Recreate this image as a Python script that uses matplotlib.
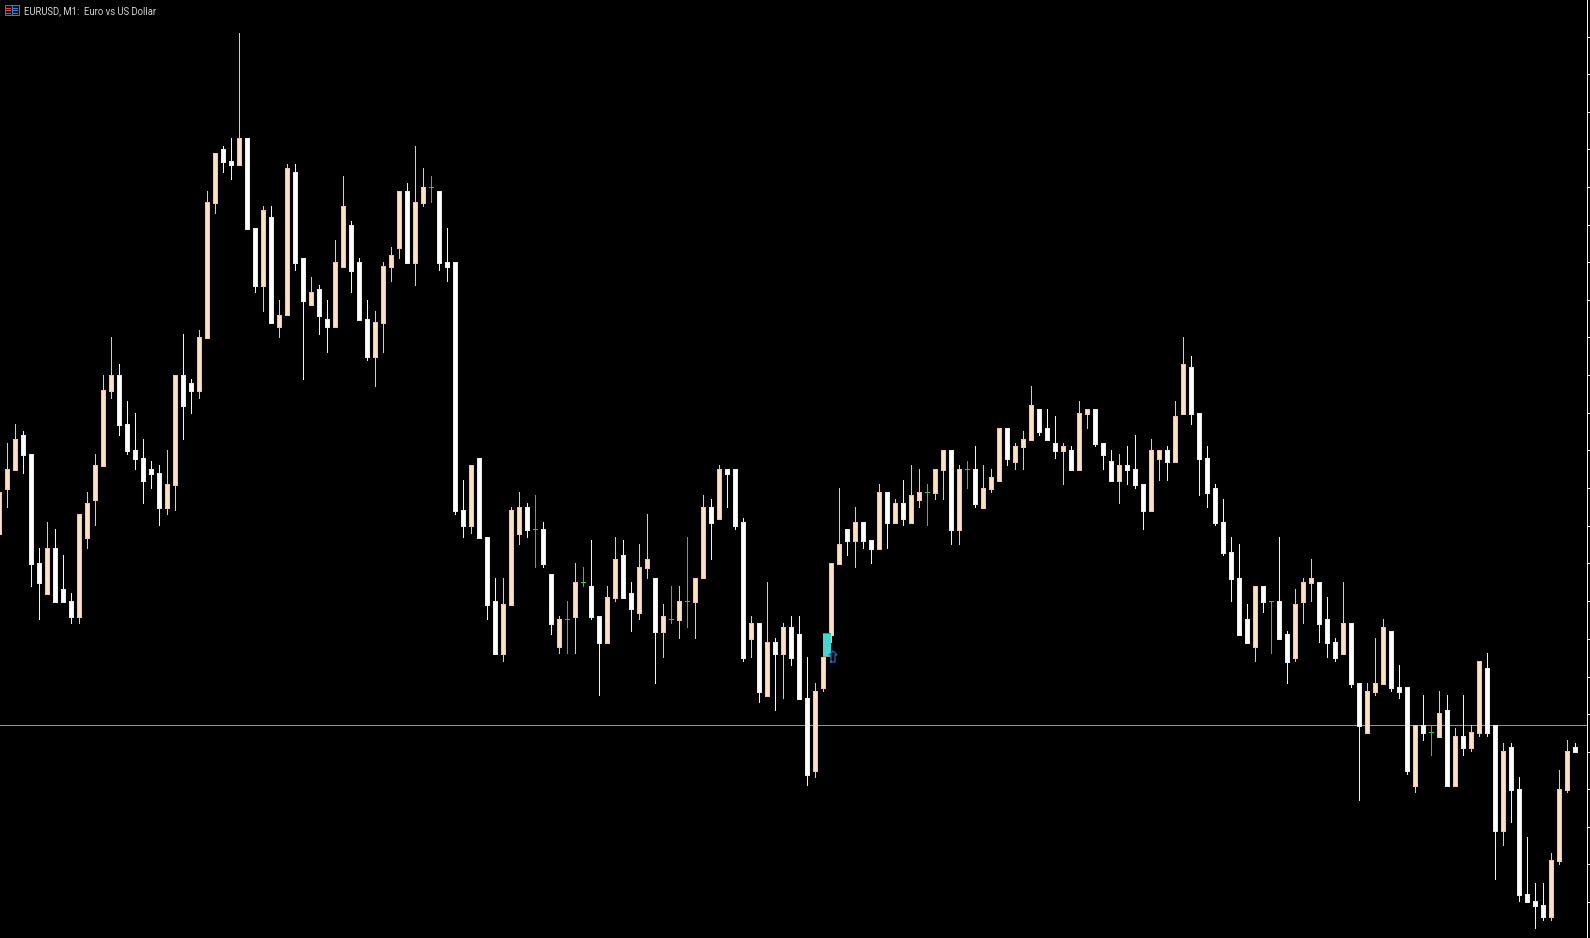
import matplotlib
matplotlib.use("Agg")
import matplotlib.pyplot as plt
from matplotlib.patches import Rectangle
from matplotlib.lines import Line2D
import numpy as np

# ---- chart values (price levels on the chart's own vertical scale) ----
highs = [492,443,424,431,454,548,522,529,555,593,
         514,492,454,375,337,364,401,413,439,461,
         465,450,375,334,379,330,191,153,146,138,
         33,138,228,206,206,300,164,164,258,277,
         285,300,240,176,221,258,300,311,262,247,
         191,183,146,168,176,191,228,262,480,465,
         458,537,578,578,507,492,503,495,522,574,
         616,601,563,567,540,616,586,537,540,582,
         544,514,578,604,586,586,537,578,495,499,
         465,469,469,518,616,623,582,638,623,616,
         616,657,683,657,563,488,529,507,522,540,
         484,492,499,480,465,469,484,469,450,450,
         465,461,446,465,469,428,428,443,431,386,
         409,409,416,443,446,401,409,409,443,450,
         454,446,435,484,439,450,446,401,337,356,
         413,446,484,499,537,544,604,586,586,601,
         537,631,589,578,559,582,597,638,582,623,
         683,683,638,619,631,665,687,725,695,725,
         691,695,728,695,725,661,653,725,743,743,
         777,837,883,883,853,770,740,743]
body_tops = [492,469,439,435,454,563,548,548,589,601,
             514,503,465,390,375,375,424,450,458,469,
             473,484,375,375,383,337,202,153,149,161,
             138,138,228,210,217,315,168,172,258,292,
             289,319,262,206,225,262,319,322,266,255,
             191,191,202,187,187,191,262,262,510,465,
             458,537,601,604,510,507,507,529,529,574,
             619,619,582,582,586,616,597,559,555,593,
             567,559,578,616,619,601,601,578,507,507,
             469,469,469,522,623,623,642,642,627,627,
             634,698,691,657,563,544,529,522,522,540,
             492,492,503,503,495,492,492,469,450,450,
             469,469,469,488,477,428,428,446,439,405,
             409,428,443,446,450,413,409,409,443,461,
             465,465,469,484,450,450,450,416,364,367,
             413,458,488,522,552,578,619,586,586,601,
             601,634,604,582,578,582,619,642,623,623,
             683,691,683,627,631,687,687,725,725,732,
             713,710,736,736,732,661,668,725,751,747,
             789,894,901,905,860,789,751,747]
body_bottoms = [535,490,471,456,565,584,595,603,603,618,
                618,539,501,467,392,426,452,460,482,475,
                509,509,486,407,392,392,339,204,163,166,
                166,230,287,287,324,328,316,264,302,306,
                317,328,328,268,272,321,358,358,324,268,
                249,264,264,204,187,264,268,512,527,527,
                539,606,655,655,606,535,531,529,565,625,
                648,619,618,582,618,644,644,599,599,610,
                614,569,633,633,619,621,601,603,579,524,
                520,475,527,659,640,693,697,655,655,659,
                700,776,772,689,636,565,542,542,542,550,
                550,524,524,520,524,501,492,494,471,531,
                531,469,505,509,490,482,460,463,448,441,
                433,441,452,452,471,471,415,445,456,482,
                482,471,486,512,512,460,463,463,415,415,
                460,494,524,554,580,636,644,648,603,601,
                640,663,659,603,584,625,644,659,655,685,
                727,734,693,685,689,693,772,787,734,732,
                738,787,787,749,749,734,734,832,832,791,
                896,903,907,918,918,862,791,753]
lows = [535,508,471,474,587,620,595,603,603,624,
        624,549,526,467,399,436,455,470,504,489,
        526,515,511,440,414,399,339,214,173,180,
        166,230,293,312,324,338,316,271,380,306,
        335,353,328,268,293,321,361,387,353,282,
        259,264,286,207,203,271,282,515,538,534,
        539,620,655,662,606,545,538,568,568,635,
        654,654,654,587,620,696,644,602,599,632,
        620,579,684,658,624,639,628,639,579,560,
        520,508,530,662,658,703,697,711,699,666,
        700,786,778,692,643,565,556,568,549,564,
        550,549,524,526,524,508,526,500,500,545,
        545,489,508,509,493,482,466,470,470,441,
        436,441,459,485,471,471,429,447,470,482,
        504,485,489,530,512,481,481,463,415,425,
        496,508,526,556,602,636,644,662,613,654,
        640,684,662,624,602,643,658,662,655,688,
        801,734,696,685,692,699,775,793,741,756,
        738,787,787,756,752,737,737,880,846,823,
        902,903,929,921,921,865,793,753]
kinds = list("pppwwwpwww" "pppppwwwww" "wppwwpppww" "pwwpwppwwp"
             "wwppwwwppp" "pwppgwwwwp" "wwwpppwgww" "pgpgwwppww"
             "ppwpgpgppw" "pwwwpwpwpw" "wwppppwpww" "pwpwppgppw"
             "pgwpppwppp" "wwwpwppwww" "pwwwppwppw" "wwwwwwwpwg"
             "wwpppwwwpw" "wppp" "www" "pwg" "pwpwppwwpw" "wwwwpppw")

h_line_level = 725
pending_top, pending_bottom = 633, 657
axis_ticks = [37,74,112,149,187,225,262,300,337,375,413,450,488,526,563,601,639,677,714,752,789,827,864,902]
title = "EURUSD, M1:  Euro vs US Dollar"

# ---- styles ----
BG = "#000000"
PEACH, PEACH_EDGE, PEACH_WICK = "#FFE0C0", "#FFB6C1", "#FFB6C1"
WHITE, WHITE_EDGE, WHITE_WICK = "#FFFFFF", "#E6E6FA", "#F0F0FF"
GREEN = "#12E012"
SCALE = "#F2F2F2"
STEP, OFFSET = 8, -0.5

fig = plt.figure(figsize=(15.9, 9.38), dpi=100, facecolor=BG)
ax = fig.add_axes([0, 0, 1, 1], facecolor=BG)
ax.set_xlim(0, 1590)
ax.set_ylim(938, 0)
ax.axis("off")
px = 0.72

x = STEP * np.arange(len(highs)) + OFFSET
highs, lows = np.array(highs), np.array(lows)
body_tops, body_bottoms = np.array(body_tops), np.array(body_bottoms)
kinds = np.array(kinds)
assert len(kinds) == len(highs)

common = dict(linewidth=0, antialiased=False)

ax.barh(h_line_level + 0.5, 1587, left=0, height=1, color="#8C9199", zorder=1, **common)

for kind, wick, face, edge in [("w", WHITE_WICK, WHITE, WHITE_EDGE), ("p", PEACH_WICK, PEACH, PEACH_EDGE)]:
    m = kinds == kind
    ax.bar(x[m], lows[m] - highs[m], bottom=highs[m], width=1, color=wick, zorder=2, **common)
    ax.bar(x[m], body_bottoms[m] - body_tops[m], bottom=body_tops[m], width=5, color=edge, zorder=3, **common)
    ax.bar(x[m], body_bottoms[m] - body_tops[m] - 2, bottom=body_tops[m] + 1, width=3, color=face, zorder=4, **common)

m = kinds == "g"
ax.bar(x[m], lows[m] - highs[m], bottom=highs[m], width=1, color=GREEN, zorder=2, **common)
ax.bar(x[m], 1, bottom=body_tops[m], width=5, color=GREEN, zorder=3, **common)

# right-hand scale
ax.bar(1587.5, 938, bottom=0, width=1, color=SCALE, zorder=5, **common)
ax.barh(np.array(axis_ticks) + 0.5, 3, left=1587, height=1, color=SCALE, zorder=5, **common)

# highlighted bar and arrow
ax.add_patch(Rectangle((823, pending_top), 8, pending_bottom - pending_top, fc="#46D6CE", ec="none", zorder=6))
ax.add_patch(Rectangle((823, pending_top), 8, 1, fc="#2A86D0", ec="none", zorder=7))
ax.add_patch(Rectangle((823, pending_bottom - 1), 8, 1, fc="#A89A3A", ec="none", zorder=7))
ax.add_line(Line2D([831, 835, 835, 837, 833, 829, 831, 831],
                   [662, 662, 655, 655, 651, 655, 655, 662],
                   color="#1870D0", lw=0.9, antialiased=True, zorder=8))

# window caption
ax.add_patch(Rectangle((4.5, 5.5), 7, 10, fc="#101010", ec="#E04040", lw=px, zorder=6))
ax.add_patch(Rectangle((11.5, 5.5), 7, 10, fc="#101010", ec="#2F7FE0", lw=px, zorder=6))
for yy in (8, 10, 13):
    ax.bar(8, 1, bottom=yy, width=6, color="#E04040", zorder=7, **common)
    ax.bar(15, 1, bottom=yy, width=6, color="#2F7FE0", zorder=7, **common)
ax.text(24, 11, title, color="#D2D2D2", fontsize=6.85, family="Roboto", va="center", ha="left", zorder=8)

fig.savefig("out.png", dpi=100, facecolor=BG)
